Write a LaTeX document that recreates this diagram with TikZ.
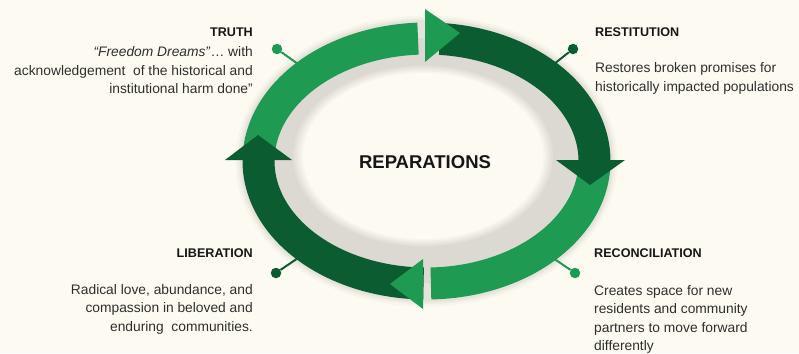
\documentclass[tikz,border=0pt]{standalone}
\usepackage{fontspec}
\setmainfont{Liberation Sans}
\definecolor{cream}{HTML}{FDFAF1}
\definecolor{ringgray}{HTML}{DCD9D2}
\definecolor{lightgreen}{HTML}{1F9A52}
\definecolor{darkgreen}{HTML}{0C5C32}
\definecolor{headink}{HTML}{161616}
\definecolor{bodyink}{HTML}{2E2E2E}
\begin{document}
\begin{tikzpicture}[x=1pt,y=-1pt,
  band/.style={line width=32pt},
  dot/.style={circle,inner sep=0pt,minimum size=10.5pt},
  stem/.style={line width=2pt},
  head/.style={inner sep=0pt,text=headink,font=\fontsize{12.6}{15}\selectfont\bfseries},
  body/.style={inner sep=0pt,text=bodyink,font=\fontsize{13.8}{18.5}\selectfont},
  title/.style={inner sep=0pt,text=headink,font=\fontsize{18.5}{22}\selectfont\bfseries}
]
% canvas
\fill[cream] (0,0) rectangle (799,353);
\useasboundingbox (0,0) rectangle (799,353);

% soft halo under the ring
\foreach \w/\o in {46/0.025,41/0.03,37/0.035}
  \draw[black,opacity=\o,line width=\w pt] (426.5,161) ellipse [x radius=168, y radius=122.5];

% grey inner band with a soft edge toward the centre
\fill[ringgray] (426.5,161) ellipse [x radius=168, y radius=122.5];
\foreach \k in {0,...,6}{
  \pgfmathsetmacro\mixp{\k*100/6}
  \fill[cream!\mixp!ringgray] (423,156) ellipse [x radius={120+(6-\k)*2}, y radius={83+(6-\k)*1.5}];
}

% centre label
\node[title] (center) at (425,162) {REPARATIONS};

% marker dots and their stems
\node[dot,fill=lightgreen] (dotTL) at (277,49) {};
\node[dot,fill=darkgreen]  (dotTR) at (573,49) {};
\node[dot,fill=darkgreen]  (dotBL) at (276,273) {};
\node[dot,fill=lightgreen] (dotBR) at (575,273) {};
\coordinate (ringTL) at (298,64);
\coordinate (ringTR) at (554,64);
\coordinate (ringBL) at (298,258);
\coordinate (ringBR) at (553,258);
\draw[stem,lightgreen] (dotTL) -- (ringTL);
\draw[stem,darkgreen]  (dotTR) -- (ringTR);
\draw[stem,darkgreen]  (dotBL) -- (ringBL);
\draw[stem,lightgreen] (dotBR) -- (ringBR);

% the four arcs of the cycle
\draw[band,lightgreen] plot[domain=184:267.1,samples=90] ({426.5+168*cos(\x)},{161+122.5*sin(\x)});
\draw[band,darkgreen]  plot[domain=274.6:361,samples=90] ({426.5+168*cos(\x)},{161+122.5*sin(\x)});
\draw[band,lightgreen] plot[domain=3:88.5,samples=90]    ({426.5+168*cos(\x)},{161+122.5*sin(\x)});
\draw[band,darkgreen]  plot[domain=91:181,samples=90]    ({426.5+168*cos(\x)},{161+122.5*sin(\x)});

% arrowheads
\fill[lightgreen] (425,9) -- (425,62) -- (460,33) -- cycle;
\fill[darkgreen]  (556,160) -- (625,160) -- (590,185) -- cycle;
\fill[lightgreen] (423,259) -- (423,309) -- (390,284) -- cycle;
\fill[darkgreen]  (225,160) -- (292,160) -- (258,135) -- cycle;

% TRUTH
\node[head,anchor=base east] (truthH) at (253,37) {TRUTH};
\node[body,anchor=north east,align=right] (truthB) at (253,46.5)
  {\textit{“Freedom Dreams”}… with\\acknowledgement\ \ of the historical and\\institutional harm done"};

% RESTITUTION
\node[head,anchor=base west] (restH) at (595,37) {RESTITUTION};
\node[body,anchor=north west,align=left] (restB) at (595,62.5)
  {Restores broken promises for\\historically impacted populations};

% LIBERATION
\node[head,anchor=base east] (libH) at (253,257) {LIBERATION};
\node[body,anchor=north east,align=right] (libB) at (253,284)
  {Radical love, abundance, and\\compassion in beloved and\\enduring\ \ communities.};

% RECONCILIATION
\node[head,anchor=base west] (recH) at (594,257) {RECONCILIATION};
\node[body,anchor=north west,align=left] (recB) at (594,285)
  {Creates space for new\\residents and community\\partners to move forward\\differently};
\end{tikzpicture}
\end{document}
